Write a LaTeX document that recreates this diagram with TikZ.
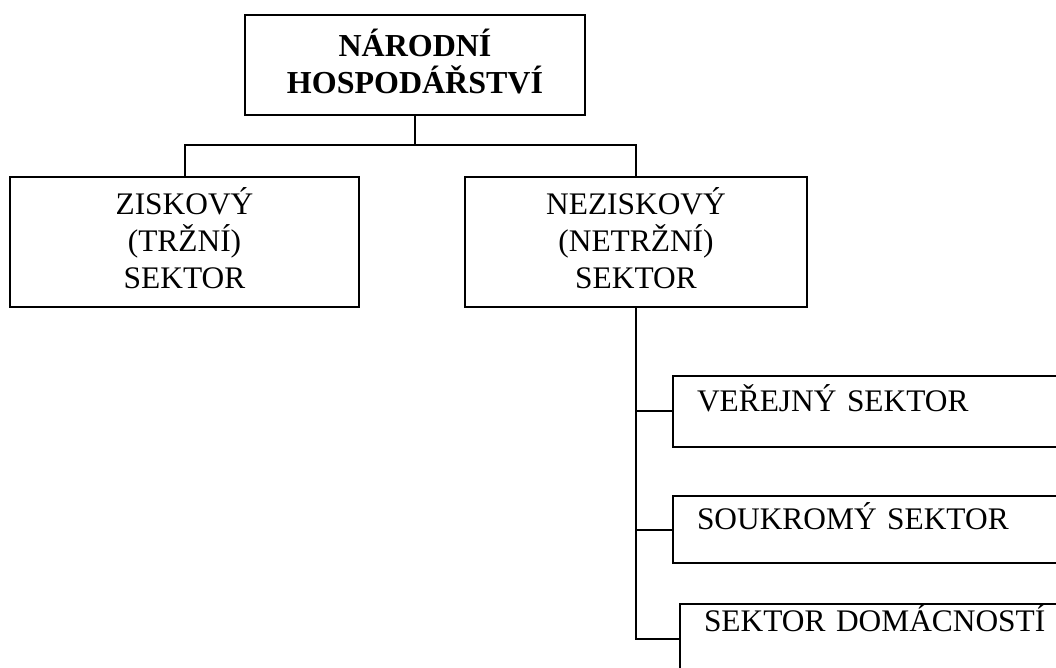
\documentclass[tikz,border=0pt]{standalone}
\usepackage{fontspec}
\setmainfont{Liberation Serif}
\begin{document}
\begin{tikzpicture}[x=0.5pt, y=-0.5pt, line width=1pt,
                    sector node/.style={rectangle,draw,align=center,text depth=4pt,font=\fontsize{15.7}{18.6}\selectfont},
                    sub node/.style={rectangle,draw,minimum width=210pt,text width=186pt,inner xsep=12pt,
                                     align=left,text height=5pt,text depth=5pt,font=\fontsize{15.7}{18.6}\selectfont}]

   \useasboundingbox (0,0) rectangle (1056,668);
   \clip (0,0) rectangle (1056,668);

   \node[sector node, minimum width=170pt, minimum height=50pt,
         font=\fontsize{16}{18.6}\selectfont\bfseries] (nh) at (415,65) {NÁRODNÍ\\HOSPODÁŘSTVÍ};
   \node[sector node, minimum width=174.5pt, minimum height=65pt] (zs) at (184.5,242) {ZISKOVÝ\\(TRŽNÍ)\\SEKTOR};
   \node[sector node, minimum width=171pt, minimum height=65pt] (nz) at (636,242) {NEZISKOVÝ\\(NETRŽNÍ)\\SEKTOR};

   \node[sub node, minimum height=35.5pt] (vs) at (883,411.5) {VEŘEJNÝ SEKTOR};
   \node[sub node, minimum height=33.5pt] (ss) at (883,529.5) {SOUKROMÝ SEKTOR};
   \node[sub node, minimum height=35pt, text height=1pt, text depth=9pt] (sd) at (890,639) {SEKTOR DOMÁCNOSTÍ};

   \coordinate (split) at (415,145);

   % upper tree
   \draw (nh.south) -- (split);
   \draw (zs.north) |- (split) -| (nz.north);

   % trunk with the three sub sectors
   \draw (nz.south) |- (sd.west);
   \draw (nz.south |- vs.west) -- (vs.west);
   \draw (nz.south |- ss.west) -- (ss.west);

\end{tikzpicture}
\end{document}
